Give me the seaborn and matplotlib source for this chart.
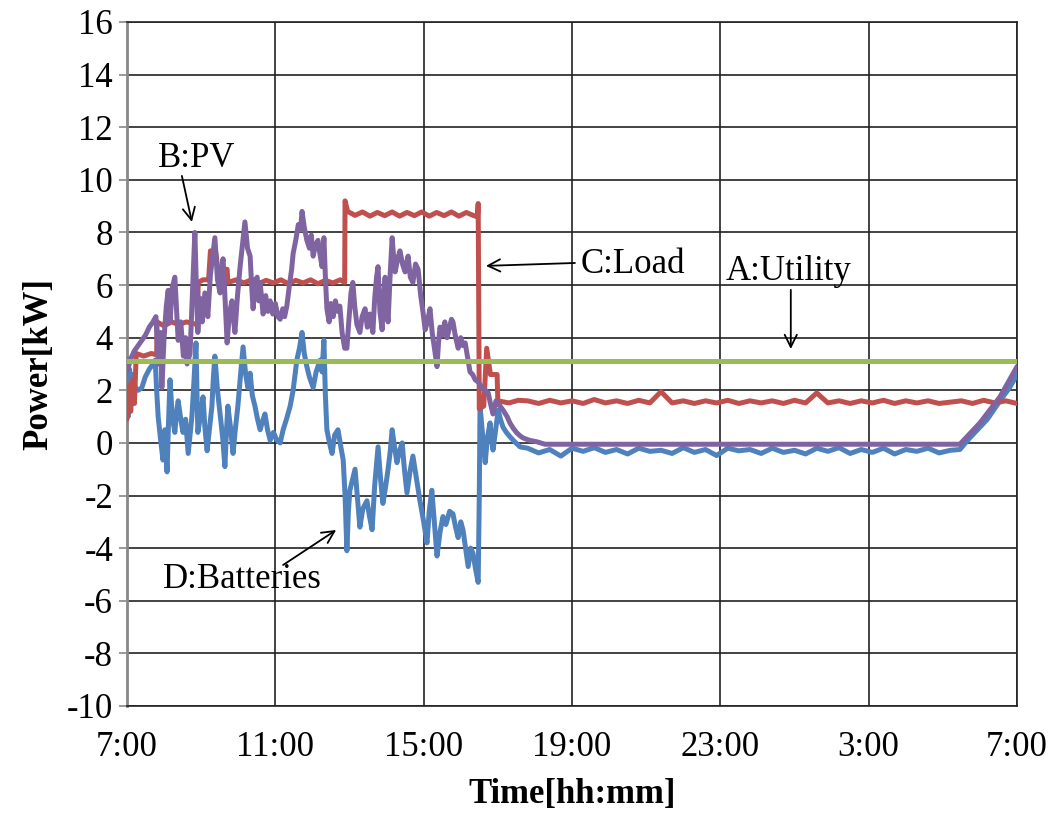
import matplotlib
matplotlib.use("Agg")
import matplotlib.pyplot as plt
import seaborn as sns

# ---- data (hours after 7:00, kW) ----
util_t = [0.0, 24.0]
util_v = [3.12, 3.12]

pv_t = [0.00, 0.10, 0.20, 0.30, 0.40, 0.50, 0.60, 0.70, 0.78, 0.85, 0.90, 0.94, 1.00, 1.06, 1.11,
        1.16, 1.22, 1.29, 1.34, 1.38, 1.45, 1.52, 1.58, 1.62, 1.70, 1.76, 1.83, 1.87, 1.91, 1.97,
        2.03, 2.10, 2.18, 2.25, 2.32, 2.37, 2.44, 2.51, 2.55, 2.59, 2.64, 2.70, 2.76, 2.83, 2.88,
        2.91, 2.98, 3.05, 3.12, 3.18, 3.25, 3.32, 3.36, 3.40, 3.46, 3.51, 3.55, 3.59, 3.63, 3.67,
        3.74, 3.80, 3.86, 3.93, 4.00, 4.07, 4.13, 4.20, 4.25, 4.31, 4.38, 4.44, 4.48, 4.55, 4.62,
        4.68, 4.72, 4.78, 4.85, 4.92, 4.97, 5.02, 5.08, 5.15, 5.20, 5.26, 5.31, 5.35, 5.39, 5.45,
        5.50, 5.56, 5.62, 5.68, 5.74, 5.80, 5.87, 5.93, 5.98, 6.04, 6.09, 6.14, 6.20, 6.28, 6.34,
        6.42, 6.48, 6.55, 6.63, 6.68, 6.73, 6.77, 6.82, 6.88, 6.92, 6.96, 7.00, 7.04, 7.10, 7.15,
        7.20, 7.23, 7.30, 7.36, 7.43, 7.50, 7.55, 7.58, 7.64, 7.71, 7.78, 7.85, 7.92, 7.98, 8.04,
        8.10, 8.17, 8.23, 8.30, 8.36, 8.40, 8.44, 8.50, 8.57, 8.63, 8.70, 8.75, 8.79, 8.85, 8.93,
        9.00, 9.06, 9.12, 9.18, 9.25, 9.32, 9.39, 9.48, 9.57, 9.66, 9.74, 9.80, 9.87, 9.95, 10.00,
        10.06, 10.14, 10.25, 10.33, 10.41, 10.50, 10.60, 10.68, 10.85, 11.06, 11.27,
        22.46, 23.0, 23.54, 24.0]
pv_v = [2.7, 3.2, 3.5, 3.7, 3.9, 4.1, 4.4, 4.6, 4.8, 3.0, 4.2, 2.1, 4.0, 5.2, 5.8,
        4.6, 5.9, 6.3, 5.0, 3.9, 4.6, 3.3, 4.0, 3.0, 3.4, 5.5, 8.0, 6.0, 4.2, 5.5,
        4.6, 5.7, 4.8, 6.4, 7.2, 7.8, 6.2, 5.7, 6.6, 7.0, 5.6, 3.8, 4.9, 5.4, 4.6,
        4.2, 5.6, 6.7, 7.6, 8.4, 7.4, 7.1, 6.0, 5.1, 6.2, 6.3, 5.4, 6.1, 5.5, 4.9,
        5.6, 5.0, 5.4, 4.9, 5.3, 4.8, 4.7, 5.1, 4.8, 5.2, 6.0, 6.6, 7.2, 7.7, 8.3,
        8.1, 8.8, 8.2, 7.7, 7.4, 7.9, 7.1, 7.5, 7.7, 7.2, 6.7, 7.8, 6.3, 5.1, 4.6,
        5.3, 4.8, 5.4, 5.0, 5.2, 4.2, 3.6, 3.6, 4.6, 5.7, 6.1, 5.2, 4.5, 4.2, 4.8,
        5.1, 4.4, 4.9, 4.2, 5.5, 6.3, 6.7, 5.0, 4.3, 5.6, 6.3, 5.2, 4.6, 6.5, 7.8,
        6.9, 6.5, 7.0, 7.3, 6.8, 6.5, 6.9, 7.1, 6.3, 6.1, 6.8, 6.6, 5.6, 5.0, 4.3,
        4.6, 5.1, 4.2, 3.5, 2.9, 3.8, 4.4, 4.1, 4.6, 4.0, 4.4, 4.7, 4.6, 4.1, 3.6,
        4.0, 3.7, 3.8, 3.3, 2.7, 2.6, 2.4, 2.3, 2.1, 2.0, 1.9, 1.5, 1.1, 1.6, 1.5,
        1.4, 1.25, 1.0, 0.75, 0.57, 0.4, 0.27, 0.19, 0.1, 0.04, -0.05,
        -0.05, 0.76, 1.75, 2.9]

night_t = [10.8, 11.1, 11.4, 11.7, 12.0, 12.3, 12.6, 12.9, 13.2, 13.5, 13.8, 14.1, 14.4, 14.7,
           15.0, 15.3, 15.6, 15.9, 16.2, 16.5, 16.8, 17.1, 17.4, 17.7, 18.0, 18.3, 18.6, 18.9,
           19.2, 19.5, 19.8, 20.1, 20.4, 20.7, 21.0, 21.3, 21.6, 21.9, 22.2]

load_day_t = [0.0, 0.05, 0.10, 0.15, 0.20, 0.25, 0.45, 0.65, 0.80, 0.81, 1.0, 1.2, 1.4, 1.6, 1.9,
              1.92, 2.05, 2.20, 2.25, 2.40, 2.45, 2.70, 2.72, 2.95, 3.15, 3.35, 3.55, 3.75, 3.95,
              4.15, 4.35, 4.55, 4.75, 4.95, 5.15, 5.35, 5.55, 5.75, 5.87, 5.88, 5.95, 6.15, 6.35,
              6.55, 6.75, 6.95, 7.15, 7.35, 7.55, 7.75, 7.95, 8.15, 8.35, 8.55, 8.75, 8.95, 9.15,
              9.35, 9.45, 9.47, 9.50, 9.62, 9.70, 9.80, 9.98, 10.00, 10.3, 10.55]
load_day_v = [0.9, 2.2, 1.2, 2.4, 1.5, 3.4, 3.3, 3.4, 3.35, 4.6, 4.45, 4.6, 4.5, 4.6, 4.5,
              6.1, 6.2, 6.2, 7.3, 7.2, 6.6, 6.6, 6.1, 6.2, 6.08, 6.2, 6.05, 6.18, 6.08,
              6.2, 6.05, 6.18, 6.08, 6.2, 6.05, 6.18, 6.08, 6.2, 6.1, 9.2, 8.8, 8.65, 8.78,
              8.62, 8.76, 8.64, 8.78, 8.62, 8.76, 8.64, 8.78, 8.62, 8.76, 8.64, 8.78, 8.62, 8.76,
              8.64, 8.6, 9.1, 1.3, 1.4, 3.6, 2.6, 2.6, 1.6, 1.52, 1.62]
load_night_v = [1.6, 1.5, 1.62, 1.52, 1.6, 1.5, 1.65, 1.52, 1.6, 1.5, 1.62, 1.52, 1.95, 1.52,
                1.6, 1.5, 1.6, 1.52, 1.62, 1.5, 1.6, 1.52, 1.6, 1.5, 1.62, 1.52, 1.9, 1.52,
                1.6, 1.5, 1.6, 1.52, 1.62, 1.5, 1.6, 1.52, 1.6, 1.5, 1.55]
load_end_t = [22.5, 22.8, 23.1, 23.4, 23.7, 24.0]
load_end_v = [1.6, 1.5, 1.62, 1.52, 1.6, 1.5]

batt_day_t = [0.00, 0.03, 0.07, 0.12, 0.17, 0.22, 0.30, 0.40, 0.49, 0.60, 0.70, 0.76, 0.80, 0.84,
              0.90, 0.97, 1.02, 1.08, 1.12, 1.16, 1.22, 1.29, 1.34, 1.38, 1.45, 1.51, 1.58, 1.65,
              1.70, 1.75, 1.80, 1.86, 1.91, 1.98, 2.05, 2.10, 2.16, 2.22, 2.29, 2.33, 2.37, 2.44,
              2.51, 2.58, 2.64, 2.68, 2.72, 2.79, 2.86, 2.92, 2.99, 3.05, 3.13, 3.20, 3.26, 3.32,
              3.38, 3.45, 3.52, 3.59, 3.65, 3.72, 3.79, 3.86, 3.95, 4.04, 4.13, 4.21, 4.30, 4.40,
              4.48, 4.58, 4.65, 4.72, 4.78, 4.85, 4.92, 5.02, 5.10, 5.21, 5.26, 5.31, 5.35, 5.39,
              5.46, 5.53, 5.60, 5.69, 5.76, 5.83, 5.88, 5.93, 5.97, 6.01, 6.08, 6.15, 6.22, 6.28,
              6.36, 6.47, 6.54, 6.61, 6.68, 6.77, 6.84, 6.90, 6.97, 7.04, 7.10, 7.15, 7.22, 7.28,
              7.35, 7.42, 7.48, 7.55, 7.63, 7.71, 7.80, 7.90, 8.00, 8.09, 8.15, 8.22, 8.30, 8.36,
              8.44, 8.52, 8.60, 8.70, 8.79, 8.86, 8.93, 9.00, 9.06, 9.13, 9.20, 9.27, 9.33, 9.40,
              9.47, 9.50, 9.52, 9.59, 9.66, 9.72, 9.79, 9.83, 9.87, 9.94, 10.01, 10.07, 10.14,
              10.23, 10.33, 10.45, 10.60]
batt_day_v = [3.2, 1.0, 2.8, 1.5, 2.6, 2.1, 2.0, 2.1, 2.5, 2.8, 3.0, 3.15, 2.0, 1.0,
              0.2, -0.65, 0.5, -1.1, 0.8, 2.4, 1.0, 0.4, 1.2, 1.6, 0.9, 0.4, 0.9, -0.4,
              0.3, 1.0, 2.2, 3.8, 0.4, 1.0, 1.75, 0.6, -0.3, 0.5, 1.4, 2.5, 3.3, 2.0,
              1.1, 0.2, -0.9, 0.4, 1.4, 0.6, -0.4, 0.5, 1.4, 2.4, 3.65, 2.6, 2.1, 2.65,
              1.8, 1.4, 0.9, 0.5, 0.8, 1.1, 0.5, 0.1, 0.4, 0.1, 0.0, 0.5, 0.9, 1.4,
              2.0, 3.15, 3.6, 4.2, 3.4, 2.9, 2.5, 2.1, 2.7, 3.15, 2.7, 3.9, 1.8, 0.5,
              0.0, -0.4, 0.3, 0.5, -0.1, -0.65, -2.0, -4.1, -2.6, -1.8, -1.4, -1.0, -2.2, -3.2,
              -2.5, -2.2, -2.8, -3.3, -1.6, -0.15, -1.4, -2.3, -1.7, -1.0, -0.3, 0.5, -0.2, -0.75,
              -0.3, 0.0, -1.0, -1.9, -1.1, -0.5, -1.3, -2.2, -3.0, -3.8, -2.6, -1.8, -3.2, -4.3,
              -3.4, -2.8, -3.1, -2.6, -2.7, -3.2, -3.6, -3.0, -3.3, -4.0, -4.7, -4.0, -4.2, -4.8,
              -5.3, -2.0, 1.4, 0.3, -0.75, 0.2, 0.76, 0.2, -0.27, 0.5, 1.25, 0.9, 0.6,
              0.4, 0.23, 0.05, -0.15]
batt_night_v = [-0.2, -0.38, -0.25, -0.5, -0.2, -0.32, -0.18, -0.36, -0.25, -0.42, -0.2, -0.32,
                -0.28, -0.4, -0.18, -0.36, -0.25, -0.48, -0.2, -0.3, -0.25, -0.4, -0.2, -0.36,
                -0.28, -0.42, -0.2, -0.32, -0.18, -0.4, -0.25, -0.36, -0.2, -0.42, -0.25, -0.32,
                -0.2, -0.38, -0.28]
batt_end_t = [22.46, 22.7, 23.0, 23.2, 23.54, 23.8, 24.0]
batt_end_v = [-0.25, 0.15, 0.6, 0.9, 1.6, 2.1, 2.6]

load_t = load_day_t + night_t + load_end_t
load_v = load_day_v + load_night_v + load_end_v
batt_t = batt_day_t + night_t + batt_end_t
batt_v = batt_day_v + batt_night_v + batt_end_v

yticks = list(range(-10, 17, 2))
xticks = [0, 4, 8, 12, 16, 20, 24]
xlabels = ["7:00", "11:00", "15:00", "19:00", "23:00", "3:00", "7:00"]

sns.set_style("white")
plt.rcParams["font.family"] = ["Liberation Serif", "DejaVu Serif"]
plt.rcParams["axes.unicode_minus"] = False
plt.rcParams["text.color"] = "black"
plt.rcParams["axes.labelcolor"] = "black"
plt.rcParams["xtick.color"] = "black"
plt.rcParams["ytick.color"] = "black"

fig = plt.figure(figsize=(10.59, 8.17), dpi=100)
ax = fig.add_axes([127 / 1059, 1 - 706 / 817, 890 / 1059, 684 / 817])

C_BATT = "#4F81BD"
C_LOAD = "#C0504D"
C_PV = "#8064A2"
C_UTIL = "#9BBB59"
LW = 3.6

sns.lineplot(x=batt_t, y=batt_v, ax=ax, color=C_BATT, lw=LW, zorder=3, sort=False)
sns.lineplot(x=load_t, y=load_v, ax=ax, color=C_LOAD, lw=LW, zorder=4, sort=False)
sns.lineplot(x=pv_t, y=pv_v, ax=ax, color=C_PV, lw=LW, zorder=5, sort=False)
sns.lineplot(x=util_t, y=util_v, ax=ax, color=C_UTIL, lw=LW, zorder=6, sort=False)

ax.set_xlim(0, 24)
ax.set_ylim(-10, 16)
ax.set_yticks(yticks)
ax.set_xticks(xticks)
ax.set_xticklabels(xlabels)
ax.grid(True, color="#222222", lw=1.2, zorder=0)
ax.set_axisbelow(True)
for s in ["top", "right", "bottom"]:
    ax.spines[s].set_color("#222222")
    ax.spines[s].set_linewidth(1.2)
ax.spines["left"].set_color("#888888")
ax.spines["left"].set_linewidth(2)
ax.tick_params(axis="y", length=6, width=1.2, color="#888888", labelcolor="black",
               labelsize=25, pad=4, direction="out", left=True)
ax.tick_params(axis="x", length=0, labelsize=25, pad=18, labelcolor="black")

ax.set_xlabel("Time[hh:mm]", fontsize=25, fontweight="bold", labelpad=10)
ax.set_ylabel("Power[kW]", fontsize=25, fontweight="bold", labelpad=8)

arrow = dict(arrowstyle="->", color="black", lw=1.3, mutation_scale=22, shrinkA=0, shrinkB=0)
txt = dict(fontsize=25, ha="left", va="center", color="black")
# B:PV
ax.text(0.84, 10.83, "B:PV", **txt)
ax.annotate("", xy=(1.75, 8.4), xytext=(1.48, 10.15), arrowprops=arrow)
# C:Load
ax.text(12.22, 6.77, "C:Load", **txt)
ax.annotate("", xy=(9.68, 6.73), xytext=(12.08, 6.84), arrowprops=arrow)
# A:Utility
ax.text(16.13, 6.5, "A:Utility", **txt)
ax.annotate("", xy=(17.9, 3.57), xytext=(17.9, 5.82), arrowprops=arrow)
# D:Batteries
ax.text(0.97, -5.2, "D:Batteries", **txt)
ax.annotate("", xy=(5.64, -3.31), xytext=(4.21, -4.64), arrowprops=arrow)

fig.savefig("out.png", dpi=100)
